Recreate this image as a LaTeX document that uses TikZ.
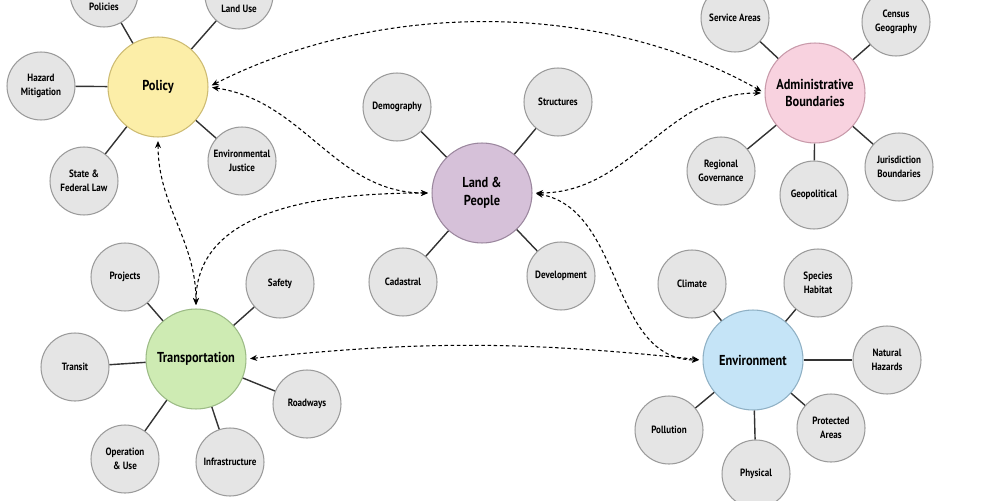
\documentclass[tikz,border=0pt]{standalone}
\usepackage{fontspec}
\setmainfont[FakeStretch=0.86]{PT Sans}
\usetikzlibrary{arrows.meta}
\definecolor{polfill}{HTML}{FCEEA8}
\definecolor{poldraw}{HTML}{CDBB72}
\definecolor{admfill}{HTML}{F8D2DF}
\definecolor{admdraw}{HTML}{C89AAA}
\definecolor{landfill}{HTML}{D6C1D9}
\definecolor{landdraw}{HTML}{9B879E}
\definecolor{trfill}{HTML}{CEEBB3}
\definecolor{trdraw}{HTML}{9CBB86}
\definecolor{envfill}{HTML}{C5E4F7}
\definecolor{envdraw}{HTML}{8FB0C4}
\definecolor{leaffill}{HTML}{E5E5E5}
\definecolor{leafdraw}{HTML}{9B9B9B}
\definecolor{spokecol}{HTML}{333333}
\begin{document}
\begin{tikzpicture}[x=0.02cm,y=-0.02cm,
  hub/.style={circle,inner sep=0pt,minimum size=2cm,line width=0.6pt,align=center,font=\fontsize{8.2}{10}\selectfont\bfseries},
  leaf/.style={circle,fill=leaffill,draw=leafdraw,inner sep=0pt,minimum size=1.36cm,line width=0.6pt,align=center,font=\fontsize{6}{7.8}\selectfont\bfseries},
  topleaf/.style={leaf,text height=20pt},
  spoke/.style={draw=spokecol,line width=0.8pt},
  link/.style={{Stealth[length=4pt,width=3.4pt]}-{Stealth[length=4pt,width=3.4pt]},dash pattern=on 2pt off 1.5pt,line width=0.6pt,shorten <=2pt,shorten >=2pt}]
\useasboundingbox (0,0) rectangle (1000,500);
\clip (0,0) rectangle (1000,500);
\node[hub,fill=polfill,draw=poldraw] (pol) at (158,87) {Policy};
\node[topleaf] (pol-pc) at (104,-7) {Policies};
\node[topleaf] (pol-lu) at (239,-5) {Land Use};
\node[leaf] (pol-hm) at (41,86) {Hazard\\Mitigation};
\node[leaf] (pol-sf) at (84,181) {State \&\\Federal Law};
\node[leaf] (pol-ej) at (242,161) {Environmental\\Justice};
\draw[spoke] (pol) -- (pol-pc);
\draw[spoke] (pol) -- (pol-lu);
\draw[spoke] (pol) -- (pol-hm);
\draw[spoke] (pol) -- (pol-sf);
\draw[spoke] (pol) -- (pol-ej);
\node[hub,fill=admfill,draw=admdraw] (adm) at (815,93) {Administrative\\Boundaries};
\node[leaf] (adm-sa) at (735,18) {Service Areas};
\node[leaf] (adm-cg) at (896,22) {Census\\Geography};
\node[leaf] (adm-rg) at (721,171) {Regional\\Governance};
\node[leaf] (adm-gp) at (814,195) {Geopolitical};
\node[leaf] (adm-jb) at (899,167) {Jurisdiction\\Boundaries};
\draw[spoke] (adm) -- (adm-sa);
\draw[spoke] (adm) -- (adm-cg);
\draw[spoke] (adm) -- (adm-rg);
\draw[spoke] (adm) -- (adm-gp);
\draw[spoke] (adm) -- (adm-jb);
\node[hub,fill=landfill,draw=landdraw] (land) at (482,193) {Land \&\\People};
\node[leaf] (land-dm) at (397,107) {Demography};
\node[leaf] (land-st) at (558,102) {Structures};
\node[leaf] (land-cd) at (403,282) {Cadastral};
\node[leaf] (land-dv) at (561,276) {Development};
\draw[spoke] (land) -- (land-dm);
\draw[spoke] (land) -- (land-st);
\draw[spoke] (land) -- (land-cd);
\draw[spoke] (land) -- (land-dv);
\node[hub,fill=trfill,draw=trdraw] (tr) at (196,359) {Transportation};
\node[leaf] (tr-pj) at (125,277) {Projects};
\node[leaf] (tr-sf) at (280,284) {Safety};
\node[leaf] (tr-ts) at (75,367) {Transit};
\node[leaf] (tr-rw) at (307,404) {Roadways};
\node[leaf] (tr-ou) at (125,459) {Operation\\\& Use};
\node[leaf] (tr-if) at (230,462) {Infrastructure};
\draw[spoke] (tr) -- (tr-pj);
\draw[spoke] (tr) -- (tr-sf);
\draw[spoke] (tr) -- (tr-ts);
\draw[spoke] (tr) -- (tr-rw);
\draw[spoke] (tr) -- (tr-ou);
\draw[spoke] (tr) -- (tr-if);
\node[hub,fill=envfill,draw=envdraw] (env) at (753,360) {Environment};
\node[leaf] (env-cl) at (692,284) {Climate};
\node[leaf] (env-sh) at (818,283) {Species\\Habitat};
\node[leaf] (env-nh) at (887,360) {Natural\\Hazards};
\node[leaf] (env-pa) at (831,428) {Protected\\Areas};
\node[leaf] (env-ph) at (756,474) {Physical};
\node[leaf] (env-pl) at (669,430) {Pollution};
\draw[spoke] (env) -- (env-cl);
\draw[spoke] (env) -- (env-sh);
\draw[spoke] (env) -- (env-nh);
\draw[spoke] (env) -- (env-pa);
\draw[spoke] (env) -- (env-ph);
\draw[spoke] (env) -- (env-pl);
\draw[link] (pol.east) .. controls (380,0) and (600,0) .. (adm.west);
\draw[link] (pol.east) to[out=-8,in=180] (land.west);
\draw[link] (pol.south) to[out=-90,in=90] (tr.north);
\draw[link] (tr.north) to[out=90,in=180] (land.west);
\draw[link] (land.east) to[out=0,in=180] (adm.west);
\draw[link] (land.east) to[out=-10,in=180] (env.west);
\draw[link] (tr.east) to[out=6,in=174] (env.west);
\end{tikzpicture}
\end{document}
